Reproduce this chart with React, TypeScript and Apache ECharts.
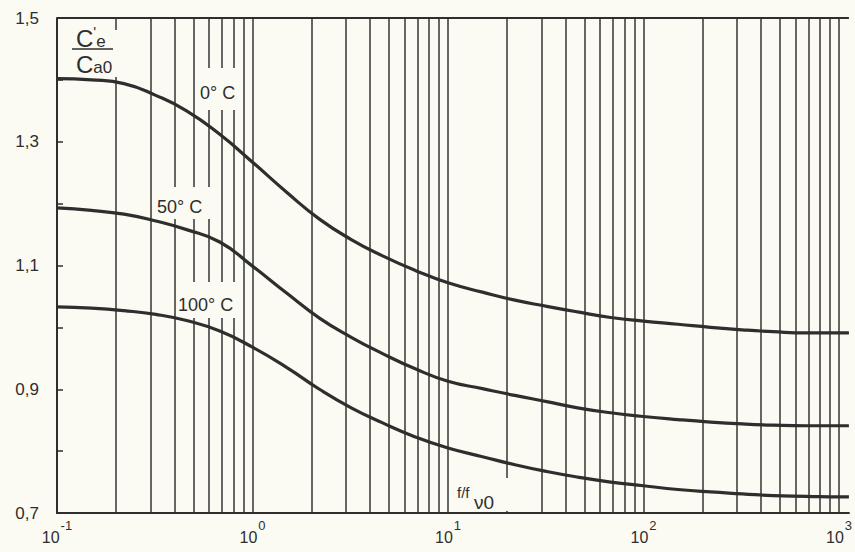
import React, { useEffect, useRef } from 'react';
import * as echarts from 'echarts';

// f / f_v0 sample positions (log axis)
const freqRatio = [
  0.1, 0.15, 0.22, 0.32, 0.46, 0.68,
  1, 1.5, 2.2, 3.2, 4.6, 6.8,
  10, 15, 22, 32, 46, 68,
  100, 150, 220, 320, 460, 680,
  1000, 1124,
];

// C'e / Ca0 for each temperature
const curve0C = [
  1.402, 1.400, 1.394, 1.375, 1.350, 1.312,
  1.267, 1.218, 1.175, 1.142, 1.116, 1.092,
  1.072, 1.057, 1.044, 1.034, 1.025, 1.016,
  1.010, 1.005, 1.000, 0.996, 0.993, 0.991,
  0.991, 0.991,
];
const curve50C = [
  1.193, 1.189, 1.183, 1.172, 1.158, 1.138,
  1.099, 1.055, 1.015, 0.984, 0.958, 0.933,
  0.913, 0.901, 0.890, 0.880, 0.870, 0.862,
  0.856, 0.851, 0.847, 0.844, 0.842, 0.841,
  0.841, 0.841,
];
const curve100C = [
  1.033, 1.031, 1.027, 1.021, 1.011, 0.994,
  0.968, 0.935, 0.900, 0.870, 0.846, 0.823,
  0.805, 0.791, 0.778, 0.767, 0.758, 0.750,
  0.744, 0.738, 0.734, 0.731, 0.728, 0.727,
  0.726, 0.726,
];

// vertical log grid lines
const gridLinesF = [
  0.2, 0.3, 0.4, 0.5, 0.6, 0.7, 0.8, 0.9,
  1, 2, 3, 4, 5, 6, 7, 8, 9,
  10, 20, 30, 40, 50, 60, 70, 80, 90,
  100, 200, 300, 400, 500, 600, 700, 800, 900,
  1000,
];

const curveLabels = ['0° C', '50° C', '100° C'];

export default function App() {
  const ref = useRef<HTMLDivElement>(null);

  useEffect(() => {
    const chart = echarts.init(ref.current!, null, { renderer: 'svg' });
    const ink = '#2e2e2e';
    const bg = '#fbfbf3';
    const font = 'Liberation Sans';
    const pair = (arr: number[]) => freqRatio.map((f, i) => [f, arr[i]]);
    const curve = (name: string, arr: number[]) => ({
      type: 'line',
      name,
      data: pair(arr),
      smooth: 0.5,
      symbol: 'none',
      showSymbol: false,
      silent: true,
      z: 4,
      lineStyle: { color: ink, width: 3.2 },
    });
    const txt = (text: string, x: number, y: number, size: number) => ({
      type: 'text',
      x,
      y,
      z: 6,
      silent: true,
      style: {
        text,
        fill: ink,
        fontSize: size,
        fontFamily: font,
        align: 'left',
        verticalAlign: 'middle',
      },
    });
    const richTxt = (text: string, x: number, y: number) => ({
      type: 'text',
      x,
      y,
      z: 6,
      silent: true,
      style: {
        text,
        align: 'left',
        verticalAlign: 'middle',
        rich: {
          c: { fontSize: 24, fontFamily: font, fill: ink, lineHeight: 26, verticalAlign: 'bottom' },
          p: { fontSize: 15, fontFamily: font, fill: ink, lineHeight: 26, verticalAlign: 'top' },
          e: { fontSize: 17, fontFamily: font, fill: ink, lineHeight: 16, verticalAlign: 'bottom' },
        },
      },
    });
    const box = (x: number, y: number, w: number, h: number) => ({
      type: 'rect',
      z: 3,
      silent: true,
      shape: { x, y, width: w, height: h },
      style: { fill: bg },
    });

    chart.setOption({
      animation: false,
      backgroundColor: bg,
      grid: { left: 57, right: 0, top: 18, bottom: 39 },
      xAxis: {
        type: 'log',
        logBase: 10,
        min: 0.1,
        max: 1124,
        axisLine: { show: true, onZero: false, lineStyle: { color: ink, width: 2 } },
        axisTick: { show: false },
        splitLine: { show: false },
        minorTick: { show: false },
        axisLabel: {
          margin: 6,
          showMaxLabel: false,
          formatter: (v: number) => {
            const e = Math.log10(v);
            const r = Math.round(e);
            if (Math.abs(e - r) > 1e-6) return '';
            return `{b|10}{s|${r}}`;
          },
          rich: {
            b: { fontSize: 16, fontFamily: font, color: ink, lineHeight: 26, verticalAlign: 'bottom' },
            s: { fontSize: 13, fontFamily: font, color: ink, lineHeight: 14, verticalAlign: 'top', padding: [0, 0, 0, 1] },
          },
        },
      },
      yAxis: {
        type: 'value',
        min: 0.7,
        max: 1.5,
        interval: 0.1,
        axisLine: { show: true, lineStyle: { color: ink, width: 2 } },
        axisTick: { show: true, inside: true, length: 6, lineStyle: { color: ink, width: 1.5 } },
        splitLine: { show: false },
        axisLabel: {
          margin: 18,
          color: ink,
          fontSize: 17,
          fontFamily: font,
          formatter: (v: number) => {
            const k = Math.round(v * 10);
            return k % 2 === 1 ? (k / 10).toFixed(1).replace('.', ',') : '';
          },
        },
      },
      series: [
        {
          type: 'line',
          data: [],
          silent: true,
          z: 2,
          markLine: {
            silent: true,
            z: 2,
            symbol: ['none', 'none'],
            label: { show: false },
            emphasis: { disabled: true },
            lineStyle: { color: '#353535', width: 1.5, type: 'solid' },
            data: [
              ...gridLinesF.map((f) => ({ xAxis: f })),
              { yAxis: 1.5, lineStyle: { color: ink, width: 2, type: 'solid' } },
            ],
          },
        },
        curve(curveLabels[0], curve0C),
        curve(curveLabels[1], curve50C),
        curve(curveLabels[2], curve100C),
      ],
      graphic: [
        // y quantity fraction
        box(60, 30, 60, 47),
        richTxt("{c|C}{p|'}{e|e}", 76, 37),
        {
          type: 'line',
          z: 6,
          silent: true,
          shape: { x1: 72, y1: 49, x2: 113, y2: 49 },
          style: { stroke: ink, lineWidth: 1.5 },
        },
        richTxt('{c|C}{e|a0}', 76, 63),
        // curve labels
        box(199, 68, 44, 42),
        txt(curveLabels[0], 200, 93, 18),
        box(156, 187, 56, 32),
        txt(curveLabels[1], 157, 207, 18),
        box(178, 282, 62, 36),
        txt(curveLabels[2], 178, 305, 18),
        // x quantity
        box(452, 478, 63, 33),
        txt('f/f', 457, 492, 15),
        txt('ν0', 474, 502, 19),
      ],
    });
    return () => chart.dispose();
  }, []);

  return (
    <div
      ref={ref}
      style={{ position: 'absolute', left: 0, top: 0, width: 855, height: 552 }}
    />
  );
}
